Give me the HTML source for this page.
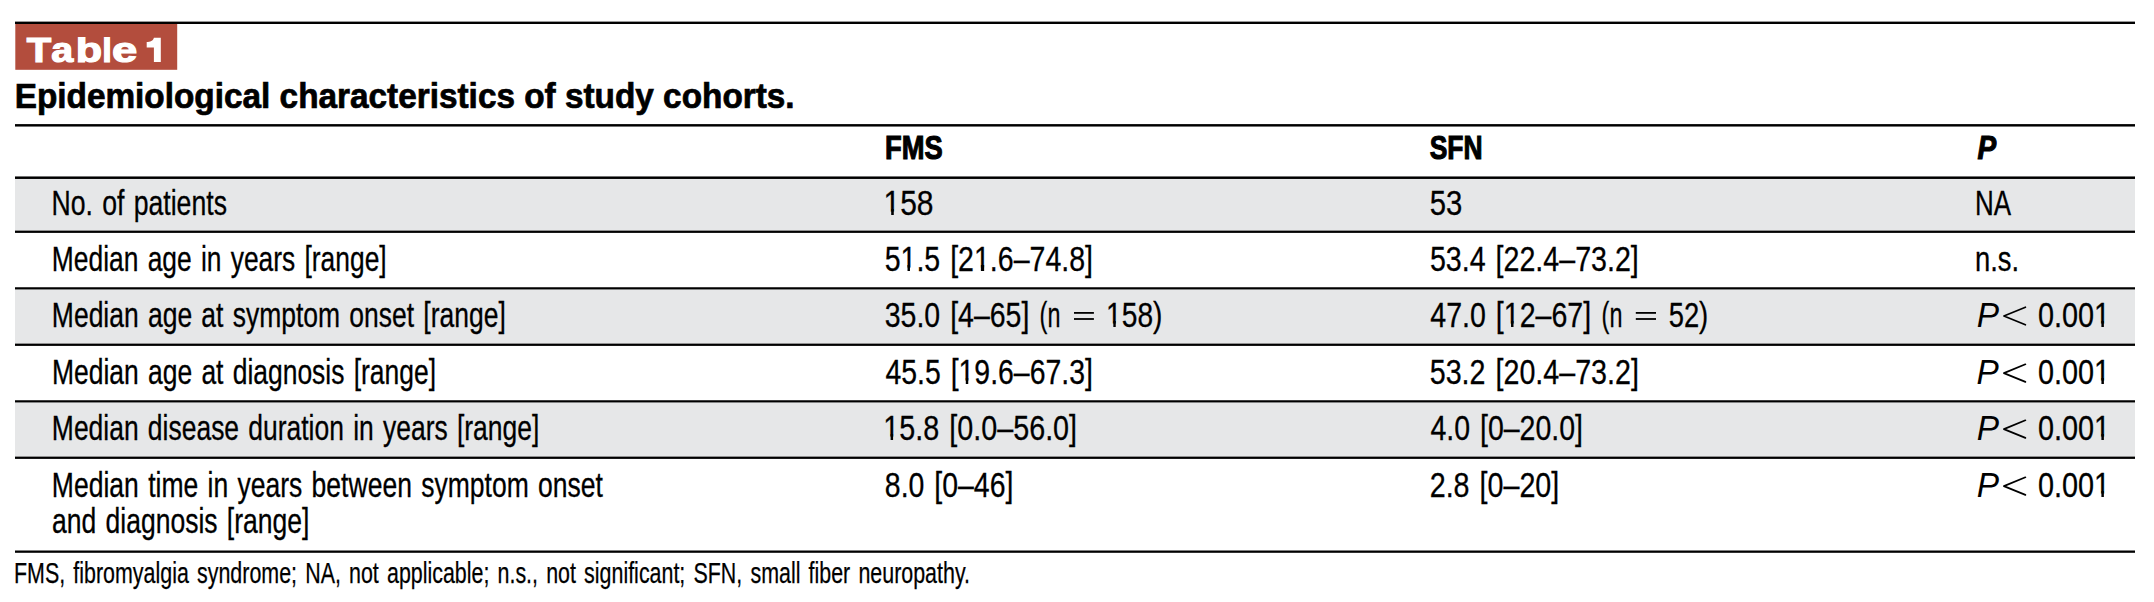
<!DOCTYPE html>
<html><head><meta charset="utf-8"><title>Table 1</title><style>
html,body{margin:0;padding:0;background:#fff;}
body{position:relative;overflow:hidden;font-family:"Liberation Sans",sans-serif;}
.t{position:absolute;white-space:nowrap;line-height:1;transform-origin:0 0;}
.o{position:relative;color:transparent;-webkit-text-stroke-color:transparent}
.o::before{content:"1";position:absolute;left:0;top:2px;color:#000;-webkit-text-stroke-color:#000;clip-path:inset(0 0 8.4px 0)}
.o::after{content:"";position:absolute;left:8.65px;width:3.39px;top:26px;height:6px;background:#000}
body{width:2154px;height:602px;}
</style></head><body>
<svg style="position:absolute;left:0;top:0" width="2154" height="602"><rect x="15.3" y="24" width="161.9" height="45.8" fill="#b34d3d"/><rect x="15" y="178.9" width="2120" height="51.70" fill="#e6e7e8"/><rect x="15" y="289.45" width="2120" height="54.15" fill="#e6e7e8"/><rect x="15" y="402.45" width="2120" height="54.15" fill="#e6e7e8"/><rect x="15" y="21.6" width="2120" height="2.4" fill="#000"/><rect x="15" y="124.1" width="2120" height="2.45" fill="#000"/><rect x="15" y="176.45" width="2120" height="2.5" fill="#000"/><rect x="15" y="230.6" width="2120" height="2.3" fill="#000"/><rect x="15" y="287.25" width="2120" height="2.2" fill="#000"/><rect x="15" y="343.6" width="2120" height="2.3" fill="#000"/><rect x="15" y="400.25" width="2120" height="2.2" fill="#000"/><rect x="15" y="456.6" width="2120" height="2.3" fill="#000"/><rect x="15" y="550.5" width="2120" height="2.3" fill="#000"/><path d="M153.9,37.8 L160.8,37.8 L160.8,62 L153.9,62 L153.9,47.6 L146.7,47.6 L146.7,42 C150,42 153.3,40.8 153.9,37.8 Z" fill="#fff"/></svg>
<div class="t" style="left:0;top:33.00px;font-size:34.5px;transform:translateX(26.73px) scaleX(1.16022);color:#fff;font-weight:bold;-webkit-text-stroke:1.2px #fff">T</div>
<div class="t" style="left:0;top:33.00px;font-size:34.5px;transform:translateX(51.19px) scaleX(1.14376);color:#fff;font-weight:bold;-webkit-text-stroke:1.2px #fff">a</div>
<div class="t" style="left:0;top:33.00px;font-size:34.5px;transform:translateX(75.83px) scaleX(1.25077);color:#fff;font-weight:bold;-webkit-text-stroke:1.2px #fff;clip-path:inset(4.00px 0 0 0)">b</div>
<div class="t" style="left:0;top:33.00px;font-size:34.5px;transform:translateX(102.18px) scaleX(1.00038);color:#fff;font-weight:bold;-webkit-text-stroke:1.2px #fff;clip-path:inset(4.00px 0 0 0)">l</div>
<div class="t" style="left:0;top:33.00px;font-size:34.5px;transform:translateX(111.93px) scaleX(1.31598);color:#fff;font-weight:bold;-webkit-text-stroke:1.2px #fff">e</div>
<div class="t" style="left:0;top:79.00px;font-size:34.5px;transform:translateX(14.70px) scaleX(0.96631);color:#000;font-weight:bold;-webkit-text-stroke:0.7px #000">Epidemiological characteristics of study cohorts.</div>
<div class="t" style="left:0;top:131.00px;font-size:33.5px;transform:translateX(884.97px) scaleX(0.81537);color:#000;font-weight:bold;-webkit-text-stroke:1.1px #000">FMS</div>
<div class="t" style="left:0;top:131.00px;font-size:33.5px;transform:translateX(1429.65px) scaleX(0.78905);color:#000;font-weight:bold;-webkit-text-stroke:1.1px #000">SFN</div>
<div class="t" style="left:0;top:131.00px;font-size:33.5px;transform:translateX(1977.44px) scaleX(0.83700);color:#000;font-weight:bold;font-style:italic;-webkit-text-stroke:1.1px #000">P</div>
<div class="t" style="left:0;top:185.00px;font-size:35px;transform:translateX(51.43px) scaleX(0.76088);color:#000;word-spacing:2.5px;-webkit-text-stroke:0.3px #000">No. of patients</div>
<div class="t" style="left:0;top:185.00px;font-size:35px;transform:translateX(883.48px) scaleX(0.85746);color:#000;word-spacing:2.5px;-webkit-text-stroke:0.3px #000"><span class="o">1</span>58</div>
<div class="t" style="left:0;top:185.00px;font-size:35px;transform:translateX(1429.74px) scaleX(0.83728);color:#000;word-spacing:2.5px;-webkit-text-stroke:0.3px #000">53</div>
<div class="t" style="left:0;top:185.00px;font-size:35px;transform:translateX(1974.94px) scaleX(0.74149);color:#000;word-spacing:2.5px;-webkit-text-stroke:0.3px #000">NA</div>
<div class="t" style="left:0;top:241.00px;font-size:35px;transform:translateX(51.86px) scaleX(0.75430);color:#000;word-spacing:2.5px;-webkit-text-stroke:0.3px #000">Median age in years [range]</div>
<div class="t" style="left:0;top:241.00px;font-size:35px;transform:translateX(884.70px) scaleX(0.81513);color:#000;word-spacing:2.5px;-webkit-text-stroke:0.3px #000">5<span class="o">1</span>.5 [2<span class="o">1</span>.6–74.8]</div>
<div class="t" style="left:0;top:241.00px;font-size:35px;transform:translateX(1429.92px) scaleX(0.81746);color:#000;word-spacing:2.5px;-webkit-text-stroke:0.3px #000">53.4 [22.4–73.2]</div>
<div class="t" style="left:0;top:241.00px;font-size:35px;transform:translateX(1975.05px) scaleX(0.78186);color:#000;word-spacing:2.5px;-webkit-text-stroke:0.3px #000">n.s.</div>
<div class="t" style="left:0;top:297.00px;font-size:35px;transform:translateX(51.85px) scaleX(0.75653);color:#000;word-spacing:2.5px;-webkit-text-stroke:0.3px #000">Median age at symptom onset [range]</div>
<div class="t" style="left:0;top:297.00px;font-size:35px;transform:translateX(884.75px) scaleX(0.81371);color:#000;word-spacing:2.5px;-webkit-text-stroke:0.3px #000">35.0 [4–65]</div>
<div class="t" style="left:0;top:297.00px;font-size:35px;transform:translateX(1039.61px) scaleX(0.66797);color:#000;word-spacing:2.5px;-webkit-text-stroke:0.3px #000">(n</div>
<div class="t" style="left:0;top:297.00px;font-size:35px;transform:translateX(1106.09px) scaleX(0.80394);color:#000;word-spacing:2.5px;-webkit-text-stroke:0.3px #000"><span class="o">1</span>58)</div>
<div class="t" style="left:0;top:297.00px;font-size:35px;transform:translateX(1430.31px) scaleX(0.81550);color:#000;word-spacing:2.5px;-webkit-text-stroke:0.3px #000">47.0 [<span class="o">1</span>2–67]</div>
<div class="t" style="left:0;top:297.00px;font-size:35px;transform:translateX(1601.61px) scaleX(0.66797);color:#000;word-spacing:2.5px;-webkit-text-stroke:0.3px #000">(n</div>
<div class="t" style="left:0;top:297.00px;font-size:35px;transform:translateX(1668.67px) scaleX(0.78222);color:#000;word-spacing:2.5px;-webkit-text-stroke:0.3px #000">52)</div>
<div class="t" style="left:0;top:354.00px;font-size:35px;transform:translateX(52.00px) scaleX(0.75582);color:#000;word-spacing:2.5px;-webkit-text-stroke:0.3px #000">Median age at diagnosis [range]</div>
<div class="t" style="left:0;top:354.00px;font-size:35px;transform:translateX(885.45px) scaleX(0.81162);color:#000;word-spacing:2.5px;-webkit-text-stroke:0.3px #000">45.5 [<span class="o">1</span>9.6–67.3]</div>
<div class="t" style="left:0;top:354.00px;font-size:35px;transform:translateX(1429.76px) scaleX(0.81845);color:#000;word-spacing:2.5px;-webkit-text-stroke:0.3px #000">53.2 [20.4–73.2]</div>
<div class="t" style="left:0;top:410.00px;font-size:35px;transform:translateX(51.85px) scaleX(0.75598);color:#000;word-spacing:2.5px;-webkit-text-stroke:0.3px #000">Median disease duration in years [range]</div>
<div class="t" style="left:0;top:410.00px;font-size:35px;transform:translateX(883.22px) scaleX(0.82136);color:#000;word-spacing:2.5px;-webkit-text-stroke:0.3px #000"><span class="o">1</span>5.8 [0.0–56.0]</div>
<div class="t" style="left:0;top:410.00px;font-size:35px;transform:translateX(1430.38px) scaleX(0.81440);color:#000;word-spacing:2.5px;-webkit-text-stroke:0.3px #000">4.0 [0–20.0]</div>
<div class="t" style="left:0;top:467.00px;font-size:35px;transform:translateX(51.85px) scaleX(0.75808);color:#000;word-spacing:2.5px;-webkit-text-stroke:0.3px #000">Median time in years between symptom onset</div>
<div class="t" style="left:0;top:503.00px;font-size:35px;transform:translateX(51.96px) scaleX(0.75805);color:#000;word-spacing:2.5px;-webkit-text-stroke:0.3px #000">and diagnosis [range]</div>
<div class="t" style="left:0;top:467.00px;font-size:35px;transform:translateX(884.86px) scaleX(0.81251);color:#000;word-spacing:2.5px;-webkit-text-stroke:0.3px #000">8.0 [0–46]</div>
<div class="t" style="left:0;top:467.00px;font-size:35px;transform:translateX(1429.69px) scaleX(0.81917);color:#000;word-spacing:2.5px;-webkit-text-stroke:0.3px #000">2.8 [0–20]</div>
<div class="t" style="left:0;top:559.00px;font-size:29px;transform:translateX(14.04px) scaleX(0.73856);color:#000;word-spacing:3px;-webkit-text-stroke:0.25px #000">FMS, fibromyalgia syndrome; NA, not applicable; n.s., not significant; SFN, small fiber neuropathy.</div>
<div class="t" style="left:0;top:297.00px;font-size:35px;transform:translateX(1976.67px) scaleX(0.95549);color:#000;font-style:italic">P</div>
<div class="t" style="left:0;top:297.00px;font-size:35px;transform:translateX(2037.96px) scaleX(0.82385);color:#000;word-spacing:2.5px;-webkit-text-stroke:0.3px #000">0.00<span class="o">1</span></div>
<div class="t" style="left:0;top:354.00px;font-size:35px;transform:translateX(1976.55px) scaleX(0.95423);color:#000;font-style:italic">P</div>
<div class="t" style="left:0;top:354.00px;font-size:35px;transform:translateX(2038.03px) scaleX(0.82324);color:#000;word-spacing:2.5px;-webkit-text-stroke:0.3px #000">0.00<span class="o">1</span></div>
<div class="t" style="left:0;top:410.00px;font-size:35px;transform:translateX(1976.67px) scaleX(0.95549);color:#000;font-style:italic">P</div>
<div class="t" style="left:0;top:410.00px;font-size:35px;transform:translateX(2037.96px) scaleX(0.82385);color:#000;word-spacing:2.5px;-webkit-text-stroke:0.3px #000">0.00<span class="o">1</span></div>
<div class="t" style="left:0;top:467.00px;font-size:35px;transform:translateX(1976.67px) scaleX(0.95549);color:#000;font-style:italic">P</div>
<div class="t" style="left:0;top:467.00px;font-size:35px;transform:translateX(2037.96px) scaleX(0.82385);color:#000;word-spacing:2.5px;-webkit-text-stroke:0.3px #000">0.00<span class="o">1</span></div>
<svg style="position:absolute;left:0;top:0" width="2154" height="602"><polyline points="2025.4,307.2 2003.9,316.0 2025.4,324.8" fill="none" stroke="#000" stroke-width="1.7" stroke-linecap="round" stroke-linejoin="round"/><polyline points="2025.4,364.3 2003.9,373.1 2025.4,381.9" fill="none" stroke="#000" stroke-width="1.7" stroke-linecap="round" stroke-linejoin="round"/><polyline points="2025.4,420.3 2003.9,429.1 2025.4,437.9" fill="none" stroke="#000" stroke-width="1.7" stroke-linecap="round" stroke-linejoin="round"/><polyline points="2025.4,477.3 2003.9,486.1 2025.4,494.9" fill="none" stroke="#000" stroke-width="1.7" stroke-linecap="round" stroke-linejoin="round"/><rect x="1074" y="312" width="19.9" height="1.8" fill="#000"/><rect x="1074" y="318.1" width="19.9" height="1.8" fill="#000"/><rect x="1635.8" y="312" width="20.2" height="1.8" fill="#000"/><rect x="1635.8" y="318.1" width="20.2" height="1.8" fill="#000"/></svg>
</body></html>
